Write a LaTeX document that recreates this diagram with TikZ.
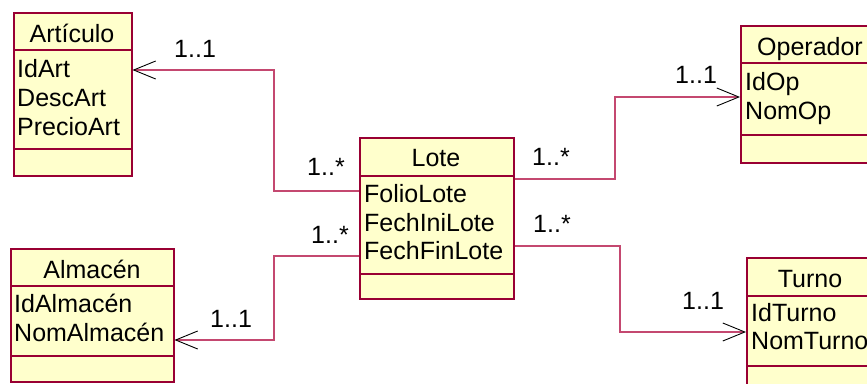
\documentclass[tikz,border=0pt]{standalone}
\usepackage{fontspec}
\setmainfont{Liberation Sans}
\usetikzlibrary{arrows.meta}

\definecolor{classedge}{RGB}{153,0,51}
\definecolor{classfill}{RGB}{255,255,204}
\definecolor{linkpink}{RGB}{196,72,112}

\tikzset{
  classbox/.style={draw=classedge, fill=classfill, line width=1.5pt, inner sep=0pt, anchor=north west},
  classsep/.style={draw=classedge, line width=1.2pt},
  txt/.style={anchor=base west, inner sep=0pt},
  title/.style={anchor=base, inner sep=0pt},
  assoc/.style={draw=linkpink, line width=1.3pt, -{Straight Barb[length=22pt,width=18pt,black,line width=0.9pt]}},
}

\begin{document}
\begin{tikzpicture}[x=1pt,y=1pt,yscale=-1,xscale=1,font=\fontsize{25}{29}\selectfont]
        \clip (0,0) rectangle (867,383);
        \useasboundingbox (0,0) rectangle (867,383);

        %Shape: Class Articulo
        \node [classbox, minimum width=118pt, minimum height=163pt] (art) at (13,12) {};
        \draw [classsep] (13,50) -- (131,50) (13,149) -- (131,149) ;
        %Shape: Class Lote
        \node [classbox, minimum width=154pt, minimum height=161pt] (lote) at (359,137) {};
        \draw [classsep] (359,176) -- (513,176) (359,274) -- (513,274) ;
        %Shape: Class Operador
        \node [classbox, minimum width=141pt, minimum height=137pt] (op) at (740,25) {};
        \draw [classsep] (740,63) -- (881,63) (740,135) -- (881,135) ;
        %Shape: Class Almacen
        \node [classbox, minimum width=163pt, minimum height=133pt] (alm) at (10,248) {};
        \draw [classsep] (10,286) -- (173,286) (10,356) -- (173,356) ;
        %Shape: Class Turno
        \node [classbox, minimum width=128pt, minimum height=138pt] (tur) at (746,257) {};
        \draw [classsep] (746,296) -- (874,296) (746,366) -- (874,366) ;

        %Bend points of the associations
        \coordinate (bend-art) at (274,70);
        \coordinate (bend-alm) at (274,340);
        \coordinate (bend-op) at (615,97);
        \coordinate (bend-tur) at (620,332);

        %Straight Lines: Lote -> Articulo
        \draw [assoc] (lote.west |- 0,191) -| (bend-art) -- (art.east |- bend-art) ;
        %Straight Lines: Lote -> Almacen
        \draw [assoc] (lote.west |- 0,256) -| (bend-alm) -- (alm.east |- bend-alm) ;
        %Straight Lines: Lote -> Operador
        \draw [assoc] (lote.east |- 0,179) -| (bend-op) -- (op.west |- bend-op) ;
        %Straight Lines: Lote -> Turno
        \draw [assoc] (lote.east |- 0,246) -| (bend-tur) -- (tur.west |- bend-tur) ;

        % Text Node
        \node [title] (art-name) at (72,42) {Artículo};
        \node [txt] (art-id) at (17,77) {IdArt};
        \node [txt] (art-desc) at (17,106) {DescArt};
        \node [txt] (art-precio) at (17,135) {PrecioArt};
        % Text Node
        \node [title] (lote-name) at (436,166) {Lote};
        \node [txt] (lote-folio) at (364,202) {FolioLote};
        \node [txt] (lote-ini) at (364,231) {FechIniLote};
        \node [txt] (lote-fin) at (364,259) {FechFinLote};
        % Text Node
        \node [title] (op-name) at (810,55) {Operador};
        \node [txt] (op-id) at (745,90) {IdOp};
        \node [txt] (op-nom) at (745,119) {NomOp};
        % Text Node
        \node [title] (alm-name) at (92,278) {Almacén};
        \node [txt] (alm-id) at (14,312) {IdAlmacén};
        \node [txt] (alm-nom) at (14,341) {NomAlmacén};
        % Text Node
        \node [title] (tur-name) at (810,287) {Turno};
        \node [txt] (tur-id) at (751,321) {IdTurno};
        \node [txt] (tur-nom) at (751,349) {NomTurno};

        % Multiplicities
        \node [txt] (m-art) at (174,57) {1..1};
        \node [txt] (m-lote-art) at (307,175) {1..*};
        \node [txt] (m-lote-alm) at (311,243) {1..*};
        \node [txt] (m-lote-op) at (532,165) {1..*};
        \node [txt] (m-lote-tur) at (533,232) {1..*};
        \node [txt] (m-op) at (675,83) {1..1};
        \node [txt] (m-alm) at (210,327) {1..1};
        \node [txt] (m-tur) at (682,309) {1..1};
\end{tikzpicture}
\end{document}
